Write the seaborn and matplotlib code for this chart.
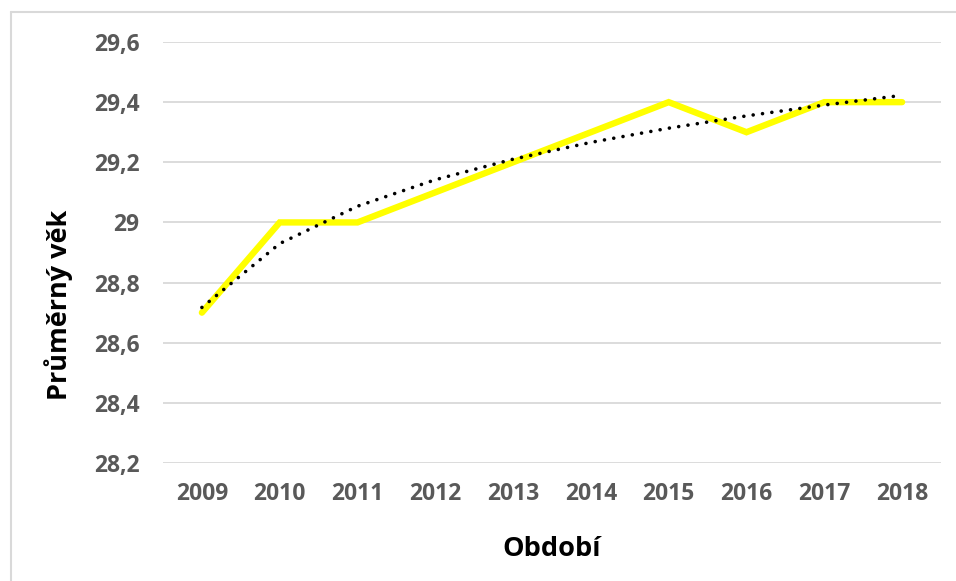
import matplotlib
matplotlib.use("Agg")
import matplotlib.pyplot as plt
import numpy as np
import pandas as pd
import seaborn as sns
from matplotlib.lines import Line2D
from matplotlib.ticker import FuncFormatter

# data
years = [2009, 2010, 2011, 2012, 2013, 2014, 2015, 2016, 2017, 2018]
avg_age = [28.7, 29.0, 29.0, 29.1, 29.2, 29.3, 29.4, 29.3, 29.4, 29.4]
y_ticks = [28.2, 28.4, 28.6, 28.8, 29.0, 29.2, 29.4, 29.6]

sns.set_theme(style="white")
plt.rcParams['font.family'] = ['Open Sans', 'DejaVu Sans']

df = pd.DataFrame({"rok": years, "vek": avg_age})

# logaritmicky trend (jako v Excelu)
idx = np.arange(1, len(years) + 1)
slope, intercept = np.polyfit(np.log(idx), df["vek"], 1)
df["trend"] = intercept + slope * np.log(idx)

fig = plt.figure(figsize=(9.56, 5.81), dpi=100)
ax = fig.add_axes([163 / 956, 1 - 463 / 581, (941 - 163) / 956, (463 - 42) / 581])

sns.lineplot(data=df, x="rok", y="vek", ax=ax, color="#FFFF00", linewidth=4.6,
             solid_joinstyle="miter", solid_capstyle="round", zorder=3)
ax.plot(df["rok"], df["trend"], color="black", linewidth=2.6,
        linestyle=(0, (0.01, 2.6)), dash_capstyle="round", zorder=4)

ax.set_xlim(2008.5, 2018.5)
ax.set_ylim(28.2, 29.6)
ax.set_xticks(years)
ax.set_yticks(y_ticks)


def cz_fmt(v, pos):
    s = "%g" % round(v, 1)
    return s.replace(".", ",")


ax.yaxis.set_major_formatter(FuncFormatter(cz_fmt))
ax.grid(axis="y", color="#D9D9D9", linewidth=1.3)
ax.grid(axis="x", visible=False)
for s in ax.spines.values():
    s.set_visible(False)
ax.tick_params(axis="both", length=0, labelsize=16.5, labelcolor="#595959")
ax.tick_params(axis="y", pad=17)
ax.tick_params(axis="x", pad=14)
for lab in ax.get_xticklabels() + ax.get_yticklabels():
    lab.set_fontweight("bold")

ax.set_xlabel("Období", fontsize=19.5, fontweight="bold", color="black")
ax.set_ylabel("Průměrný věk", fontsize=19.5, fontweight="bold", color="black")
ax.xaxis.set_label_coords(0.5, (463 - 549) / 421)
ax.xaxis.label.set_va("center")
ax.yaxis.set_label_coords((59 - 163) / 778, (463 - 305) / 421)
ax.yaxis.label.set_va("center")

# ramecek grafu
fig.add_artist(Line2D([11 / 956, 11 / 956], [0, 1 - 12 / 581], color="#D9D9D9", linewidth=1.5))
fig.add_artist(Line2D([11 / 956, 1], [1 - 12 / 581, 1 - 12 / 581], color="#D9D9D9", linewidth=1.5))

fig.savefig("out.png", dpi=100)
